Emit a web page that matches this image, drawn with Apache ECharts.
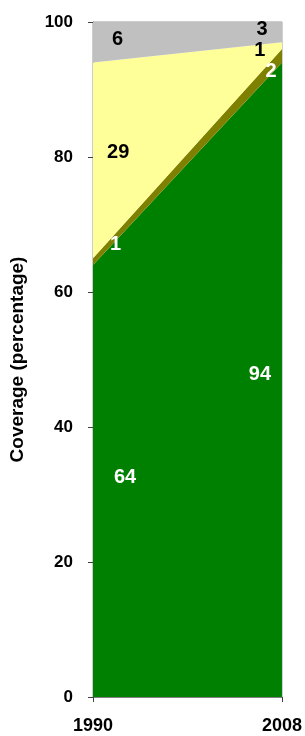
<!DOCTYPE html>
<html>
<head>
<meta charset="utf-8">
<script src="https://cdn.jsdelivr.net/npm/echarts@6/dist/echarts.min.js"></script>
<style>
  html, body { margin: 0; padding: 0; background: #fff; }
  #chart { width: 305px; height: 736px; }
</style>
</head>
<body>
<div id="chart"></div>
<script>
// years on the x axis
const years = ['1990', '2008']
// coverage shares (percent), stacked bottom to top
const pipedOnPremises = [64, 94]
const otherImproved = [1, 2]
const unimproved = [29, 1]
const openDefecation = [6, 3]

const layers = [
  { name: 'piped', data: pipedOnPremises, color: '#008000' },
  { name: 'other', data: otherImproved, color: '#808000' },
  { name: 'unimproved', data: unimproved, color: '#ffff99' },
  { name: 'open', data: openDefecation, color: '#c0c0c0' }
]

// where each value label sits, in axis units (year, percent)
const labelSpots = [
  { layer: 0, i: 0, x: 1993.05, y: 32.5, color: '#fff' },
  { layer: 0, i: 1, x: 2005.9, y: 47.8, color: '#fff' },
  { layer: 1, i: 0, x: 1992.15, y: 67.0, color: '#fff' },
  { layer: 1, i: 1, x: 2006.95, y: 92.6, color: '#fff' },
  { layer: 2, i: 0, x: 1992.4, y: 80.7, color: '#000' },
  { layer: 2, i: 1, x: 2005.9, y: 95.85, color: '#000' },
  { layer: 3, i: 0, x: 1992.35, y: 97.4, color: '#000' },
  { layer: 3, i: 1, x: 2006.1, y: 98.9, color: '#000' }
]

const font = 'Liberation Sans, Arial, sans-serif'
const chart = echarts.init(document.getElementById('chart'))

const areaSeries = layers.map(l => ({
  name: l.name,
  type: 'line',
  stack: 'total',
  symbol: 'none',
  silent: true,
  lineStyle: { width: 0 },
  areaStyle: { color: l.color, opacity: 1 },
  itemStyle: { color: l.color },
  data: l.data
}))

const labelSeries = {
  type: 'scatter',
  xAxisIndex: 1,
  symbolSize: 1,
  silent: true,
  z: 10,
  itemStyle: { opacity: 0 },
  data: labelSpots.map(s => ({
    value: [s.x, s.y],
    label: {
      show: true,
      position: 'inside',
      formatter: String(layers[s.layer].data[s.i]),
      color: s.color,
      opacity: 1,
      fontSize: 20,
      fontWeight: 'bold',
      fontFamily: font
    }
  }))
}

chart.setOption({
  animation: false,
  grid: {
    left: 93,
    right: 23,
    top: 22,
    bottom: 39,
    show: true,
    borderColor: '#9a9a9a',
    borderWidth: 1
  },
  xAxis: [{
    type: 'category',
    data: years,
    boundaryGap: false,
    axisLine: { lineStyle: { color: '#808080' } },
    axisTick: { show: true, interval: 0, length: 5, lineStyle: { color: '#404040' } },
    splitLine: { show: false },
    axisLabel: {
      interval: 0,
      margin: 20,
      color: '#000',
      fontSize: 18,
      fontWeight: 'bold',
      fontFamily: font
    }
  }, {
    type: 'value',
    min: 1990,
    max: 2008,
    show: false
  }],
  yAxis: {
    type: 'value',
    min: 0,
    max: 100,
    interval: 20,
    name: 'Coverage (percentage)',
    nameLocation: 'middle',
    nameGap: 66,
    nameTextStyle: {
      color: '#000',
      fontSize: 19,
      fontWeight: 'bold',
      fontFamily: font
    },
    axisLine: { show: true, lineStyle: { color: '#808080' } },
    axisTick: { show: true, length: 5, inside: false, lineStyle: { color: '#404040' } },
    splitLine: { show: false },
    axisLabel: {
      margin: 20,
      color: '#000',
      fontSize: 17,
      fontWeight: 'bold',
      fontFamily: font
    }
  },
  series: [...areaSeries, labelSeries]
})
</script>
</body>
</html>
